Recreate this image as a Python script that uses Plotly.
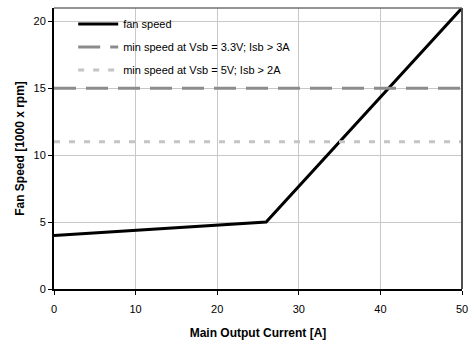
import plotly.graph_objects as go

# fan curve
current = [0, 26, 50]
fan_speed = [4, 5, 21]

# min speed thresholds
x_span = [0, 50]
min_33v = [15, 15]
min_5v = [11, 11]

fig = go.Figure()
fig.add_trace(go.Scatter(x=current, y=fan_speed, mode='lines', name='fan speed',
                         legendgroup='a', line=dict(color='black', width=3)))
fig.add_trace(go.Scatter(x=x_span, y=min_33v, mode='lines',
                         name='min speed at Vsb = 3.3V; Isb > 3A', legendgroup='b',
                         line=dict(color='#8c8c8c', width=3, dash='22px,10px')))
fig.add_trace(go.Scatter(x=x_span, y=min_5v, mode='lines',
                         name='min speed at Vsb = 5V; Isb > 2A', legendgroup='c',
                         line=dict(color='#c4c4c4', width=3, dash='6px,9px')))

fig.update_xaxes(range=[0, 50], dtick=10, showgrid=True, gridcolor='#c8c8c8', gridwidth=1,
                 showline=True, linecolor='black', linewidth=2, mirror=False,
                 ticks='outside', ticklen=4, tickcolor='black', zeroline=False,
                 ticklabelstandoff=5, automargin=False,
                 title=dict(text='<b>Main Output Current [A]</b>', font=dict(size=12, color='black'), standoff=14),
                 tickfont=dict(size=11, color='black'))
fig.update_yaxes(range=[0, 21], tickvals=[0, 5, 10, 15, 20], showgrid=True, gridcolor='#c8c8c8', gridwidth=1,
                 showline=True, linecolor='black', linewidth=2, mirror=False,
                 ticks='outside', ticklen=4, tickcolor='black', zeroline=False,
                 automargin=False,
                 title=dict(text='<b>Fan Speed [1000 x rpm]</b>', font=dict(size=12, color='black'), standoff=6),
                 tickfont=dict(size=11, color='black'))

# white legend panel hides the gridlines but not the data lines
fig.add_shape(type='rect', xref='paper', yref='paper', x0=0, x1=0.689, y0=0.72, y1=0.982,
              layer='between', fillcolor='white', line=dict(width=0))

# frame on top/right
fig.add_shape(type='line', xref='paper', yref='paper', x0=0, x1=1, y0=1, y1=1,
              line=dict(color='#707070', width=1.5))
fig.add_shape(type='line', xref='paper', yref='paper', x0=1, x1=1, y0=0, y1=1,
              line=dict(color='#505050', width=2))

fig.update_layout(
    width=469, height=341,
    margin=dict(l=54, r=7, t=8, b=52),
    plot_bgcolor='white', paper_bgcolor='white',
    font=dict(family='Liberation Sans, Arial, sans-serif', size=11, color='black'),
    legend=dict(x=0.047, y=0.995, xanchor='left', yanchor='top', bgcolor='rgba(0,0,0,0)',
                font=dict(size=11), itemwidth=40, tracegroupgap=4),
)

fig.write_html("out.html", config={'displayModeBar': False},
               post_script="document.body.style.margin='0px';")
